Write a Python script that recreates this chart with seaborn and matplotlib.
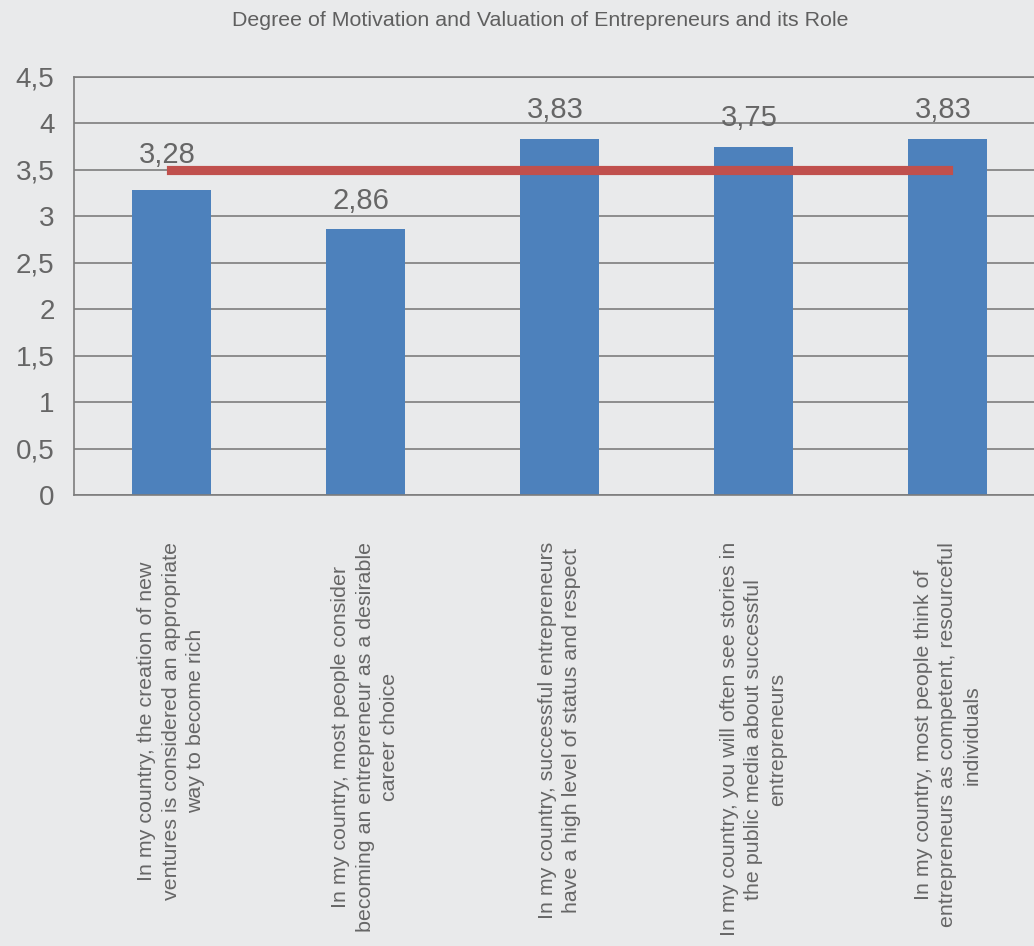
import numpy as np
import pandas as pd
import matplotlib
matplotlib.use("Agg")
import matplotlib.pyplot as plt
import seaborn as sns

# Survey statements (wrapped as in the chart) and mean agreement scores
categories = [
    "In my country, the creation of new\nventures is considered an appropriate\nway to become rich",
    "In my country, most people consider\nbecoming an entrepreneur as a desirable\ncareer choice",
    "In my country, successful entrepreneurs\nhave a high level of status and respect",
    "In my country, you will often see stories in\nthe public media about successful\nentrepreneurs",
    "In my country, most people think of\nentrepreneurs as competent, resourceful\nindividuals",
]
scores = [3.28, 2.86, 3.83, 3.75, 3.83]
benchmark = [3.5, 3.5, 3.5, 3.5, 3.5]
y_ticks = [0, 0.5, 1, 1.5, 2, 2.5, 3, 3.5, 4, 4.5]
y_tick_labels = ["0", "0,5", "1", "1,5", "2", "2,5", "3", "3,5", "4", "4,5"]
title = "Degree of Motivation and Valuation of Entrepreneurs and its Role"

BG = "#e9eaeb"
BLUE = "#4d81bc"
RED = "#c0504d"
GRID = "#7d7d7d"
TEXT = "#666666"

sns.set_style("white")
plt.rcParams["font.family"] = ["Liberation Sans", "DejaVu Sans"]

W, H, DPI = 1034, 946, 100
fig = plt.figure(figsize=(W / DPI, H / DPI), dpi=DPI, facecolor=BG)

# plot area: left edge at x=74px, zero line at y=495px, 4.5 line at y=77px,
# the last category runs slightly past the right border
left, right = 74, 1045
top, bottom = 77, 495
ax = fig.add_axes([left / W, (H - bottom) / H, (right - left) / W, (bottom - top) / H])
ax.set_facecolor(BG)

df = pd.DataFrame({"statement": categories, "score": scores})
sns.barplot(data=df, x="statement", y="score", color=BLUE, saturation=1,
            width=0.407, linewidth=0, ax=ax, zorder=2)

line_df = pd.DataFrame({"pos": np.arange(len(benchmark)), "value": benchmark})
sns.lineplot(data=line_df, x="pos", y="value", color=RED, linewidth=6.6,
             solid_capstyle="projecting", ax=ax, zorder=4)

ax.set_xlim(-0.5, len(categories) - 0.5)
ax.set_ylim(0, 4.5)
ax.set_yticks(y_ticks)
ax.set_yticklabels(y_tick_labels)
ax.set_xticks(np.arange(len(categories)))
ax.set_xticklabels(categories, rotation=90, ha="center", va="top",
                   multialignment="center", linespacing=1.36,
                   fontsize=15.4, color=TEXT)
ax.set_xlabel("")
ax.set_ylabel("")

ax.tick_params(axis="y", length=0, pad=14, labelsize=20, labelcolor=TEXT)
ax.tick_params(axis="x", length=0, pad=34)

ax.set_axisbelow(True)
ax.yaxis.grid(True, color=GRID, linewidth=1.2)
ax.xaxis.grid(False)
for side in ("left", "bottom", "top"):
    ax.spines[side].set_visible(True)
    ax.spines[side].set_color(GRID)
    ax.spines[side].set_linewidth(1.2)
ax.spines["right"].set_visible(False)

# value labels above each bar (the first is lifted clear of the red line)
label_pad_pt = [20, 15, 15, 15, 15]
for i, (v, pad) in enumerate(zip(scores, label_pad_pt)):
    ax.annotate(f"{v:.2f}".replace(".", ","), xy=(i, v), xytext=(-3, pad),
                textcoords="offset points", ha="center", va="baseline",
                fontsize=21, color=TEXT, zorder=5)

fig.text(540 / W, 1 - 21 / H, title, ha="center", va="center",
         fontsize=15.4, color="#5f5f5f")

fig.savefig("out.png", dpi=DPI, facecolor=BG)
